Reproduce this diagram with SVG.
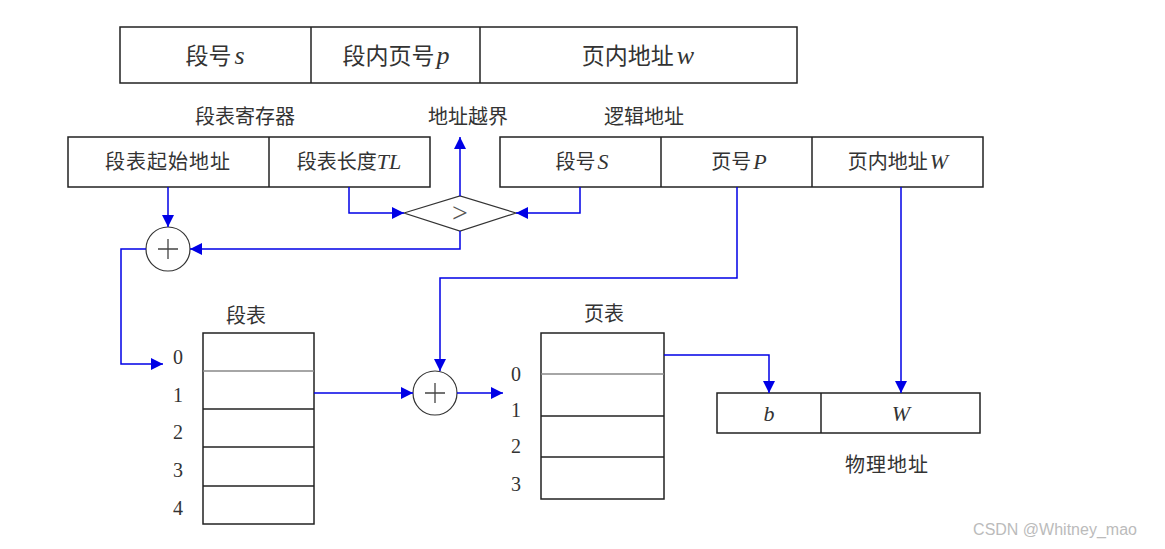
<svg xmlns="http://www.w3.org/2000/svg" width="1165" height="549" viewBox="0 0 1165 549">
<style>
.box{fill:#fff;stroke:#222;stroke-width:1.5}
.ln{stroke:#222;stroke-width:1.5}
.gl{stroke:#888;stroke-width:1.5}
.t{font-family:"Liberation Serif","Noto Sans CJK SC",serif;font-size:20px;fill:#333;text-anchor:middle}
.big{font-size:23px}
.i{font-style:italic}
.li{font-style:italic;font-size:22px}
.lb{font-style:italic;font-size:26px}
.c{fill:none;stroke:#0000e6;stroke-width:1.5}
.cir{fill:#fff;stroke:#333;stroke-width:1.2}
.plus{stroke:#444;stroke-width:1.3}
.wm{font-family:"Liberation Sans",sans-serif;font-size:16px;fill:#bbb;text-anchor:middle}
</style>
<defs>
<marker id="ah2" viewBox="0 0 10 10" refX="10" refY="5" markerWidth="13" markerHeight="12" markerUnits="userSpaceOnUse" orient="auto">
<path d="M0,0 L10,5 L0,10 z" fill="#0000e6"/>
</marker>
</defs>

<g id="top-address">
<rect class="box" x="120" y="27" width="677" height="56"/>
<line class="ln" x1="311" y1="27" x2="311" y2="83"/>
<line class="ln" x1="480" y1="27" x2="480" y2="83"/>
<text class="t big" x="215" y="64">段号<tspan class="lb" dx="3">s</tspan></text>
<text class="t big" x="396" y="64">段内页号<tspan class="lb" dx="2">p</tspan></text>
<text class="t big" x="638" y="64">页内地址<tspan class="lb" dx="3">w</tspan></text>
</g>

<g id="seg-register">
<text class="t" x="245" y="124">段表寄存器</text>
<rect class="box" x="68" y="137" width="362" height="50"/>
<line class="ln" x1="269" y1="137" x2="269" y2="187"/>
<text class="t" x="168" y="169" letter-spacing="1">段表起始地址</text>
<text class="t" x="349" y="169">段表长度<tspan class="li">TL</tspan></text>
</g>

<g id="overflow-label">
<text class="t" x="468" y="124">地址越界</text>
</g>

<g id="logical-address">
<text class="t" x="644" y="124">逻辑地址</text>
<rect class="box" x="500" y="137" width="483" height="50"/>
<line class="ln" x1="661" y1="137" x2="661" y2="187"/>
<line class="ln" x1="812" y1="137" x2="812" y2="187"/>
<text class="t" x="582" y="169">段号<tspan class="li" dx="2">S</tspan></text>
<text class="t" x="739" y="169">页号<tspan class="li" dx="2">P</tspan></text>
<text class="t" x="898" y="169">页内地址<tspan class="li" dx="2">W</tspan></text>
</g>

<g id="compare">
<polygon class="cir" points="404,213 460,196 516,213 460,231"/>
<text class="t" x="460" y="222" style="font-size:28px;fill:#555">&gt;</text>
</g>

<g id="adder1">
<circle class="cir" cx="168" cy="249" r="22"/>
<path class="plus" d="M158,249 H178 M168,239 V259"/>
</g>

<g id="adder2">
<circle class="cir" cx="435" cy="393" r="22"/>
<path class="plus" d="M425,393 H445 M435,383 V403"/>
</g>

<g id="segment-table">
<text class="t" x="246" y="323">段表</text>
<rect class="box" x="203" y="333" width="111" height="191"/>
<line class="gl" x1="203" y1="371" x2="314" y2="371"/>
<line class="ln" x1="203" y1="409" x2="314" y2="409"/>
<line class="ln" x1="203" y1="447" x2="314" y2="447"/>
<line class="ln" x1="203" y1="486" x2="314" y2="486"/>
<text class="t" x="178" y="364">0</text>
<text class="t" x="178" y="402">1</text>
<text class="t" x="178" y="439">2</text>
<text class="t" x="178" y="477">3</text>
<text class="t" x="178" y="515">4</text>
</g>

<g id="page-table">
<text class="t" x="604" y="321">页表</text>
<rect class="box" x="541" y="333" width="123" height="166"/>
<line class="gl" x1="541" y1="374" x2="664" y2="374"/>
<line class="ln" x1="541" y1="416" x2="664" y2="416"/>
<line class="ln" x1="541" y1="457" x2="664" y2="457"/>
<text class="t" x="516" y="381">0</text>
<text class="t" x="516" y="417">1</text>
<text class="t" x="516" y="453">2</text>
<text class="t" x="516" y="491">3</text>
</g>

<g id="physical-address">
<rect class="box" x="717" y="393" width="263" height="40"/>
<line class="ln" x1="821" y1="393" x2="821" y2="433"/>
<text class="t li" x="769" y="421">b</text>
<text class="t li" x="901" y="421">W</text>
<text class="t" x="887" y="472" letter-spacing="1">物理地址</text>
</g>

<g id="connectors">
<path class="c" d="M460,196 V137" marker-end="url(#ah2)"/>
<path class="c" d="M349,187 V213 H404" marker-end="url(#ah2)"/>
<path class="c" d="M580,187 V213 H516" marker-end="url(#ah2)"/>
<path class="c" d="M460,231 V249 H190" marker-end="url(#ah2)"/>
<path class="c" d="M168,187 V227" marker-end="url(#ah2)"/>
<path class="c" d="M146,249 H121 V364 H163" marker-end="url(#ah2)"/>
<path class="c" d="M314,393 H413" marker-end="url(#ah2)"/>
<path class="c" d="M737,187 V278 H440 V371" marker-end="url(#ah2)"/>
<path class="c" d="M457,393 H503" marker-end="url(#ah2)"/>
<path class="c" d="M664,355 H769 V393" marker-end="url(#ah2)"/>
<path class="c" d="M901,187 V393" marker-end="url(#ah2)"/>
</g>

<text class="wm" x="1055" y="535">CSDN @Whitney_mao</text>
</svg>
